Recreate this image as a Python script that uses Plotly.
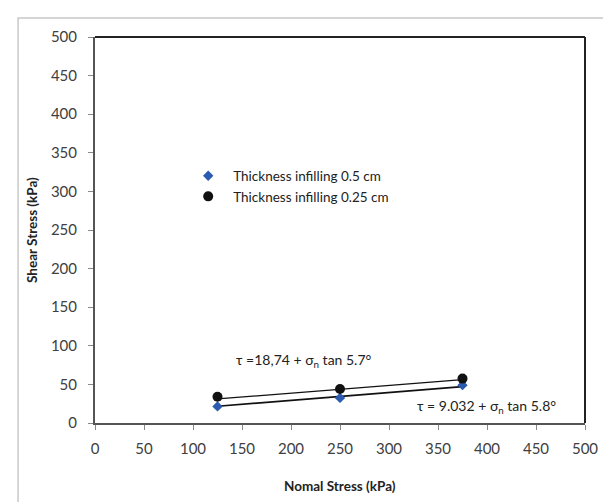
import plotly.graph_objects as go

# Data
normal_stress = [125, 250, 375]
shear_05 = [21.5, 32.5, 49.0]      # Thickness infilling 0.5 cm
shear_025 = [34.0, 44.0, 57.5]     # Thickness infilling 0.25 cm
fit_x = [125, 375]
fit_05 = [21.7, 47.1]              # tau = 9.032 + sigma_n tan 5.8
fit_025 = [31.2, 56.2]             # tau = 18.74 + sigma_n tan 5.7
ticks = list(range(0, 501, 50))

FONT = "Lato"
fig = go.Figure()

fig.add_trace(go.Scatter(x=fit_x, y=fit_025, mode="lines",
                         line=dict(color="#111111", width=1.2), showlegend=False, hoverinfo="skip"))
fig.add_trace(go.Scatter(x=fit_x, y=fit_05, mode="lines",
                         line=dict(color="#111111", width=1.6), showlegend=False, hoverinfo="skip"))
fig.add_trace(go.Scatter(x=normal_stress, y=shear_05, mode="markers",
                         name="Thickness infilling 0.5 cm",
                         marker=dict(symbol="diamond", size=8, color="#2a5bb0")))
fig.add_trace(go.Scatter(x=normal_stress, y=shear_025, mode="markers",
                         name="Thickness infilling 0.25 cm",
                         marker=dict(symbol="circle", size=10, color="#111111")))

axis_common = dict(range=[0, 500], tickvals=ticks, ticks="outside", ticklen=5,
                   tickcolor="#888888", tickwidth=1, showgrid=False, zeroline=False,
                   showline=True, linecolor="#555555", linewidth=2,
                   tickfont=dict(family=FONT, size=15, color="#404040"))

fig.update_xaxes(**axis_common, ticklabelstandoff=6)
fig.update_yaxes(**axis_common, ticklabelstandoff=8)

shapes = [
    # top and right border of plot area
    dict(type="line", xref="paper", yref="paper", x0=0, x1=1, y0=1, y1=1,
         line=dict(color="#222222", width=2)),
    dict(type="line", xref="paper", yref="paper", x0=1, x1=1, y0=0, y1=1,
         line=dict(color="#222222", width=2)),
    # outer chart border
    dict(type="rect", xref="paper", yref="paper", x0=-0.157, x1=1.2, y0=-0.4, y1=1.049,
         line=dict(color="#c8c8c8", width=1.5), layer="below"),
]

annotations = [
    dict(text="<b>Nomal Stress (kPa)</b>", xref="paper", yref="paper", x=0.5, y=0,
         yshift=-63, showarrow=False, xanchor="center", yanchor="middle",
         font=dict(family=FONT, size=13.5, color="#222222")),
    dict(text="<b>Shear Stress (kPa)</b>", xref="paper", yref="paper", x=0, y=0.5,
         xshift=-63, showarrow=False, textangle=-90, xanchor="center", yanchor="middle",
         font=dict(family=FONT, size=13.5, color="#222222")),
    dict(text="τ =18,74 + σ<sub>n</sub> tan 5.7°", x=213, y=81.6, showarrow=False,
         xanchor="center", yanchor="middle", font=dict(family=FONT, size=14, color="#222222")),
    dict(text="τ = 9.032 + σ<sub>n</sub> tan 5.8°", x=399.5, y=22, showarrow=False,
         xanchor="center", yanchor="middle", font=dict(family=FONT, size=14, color="#222222")),
]

fig.update_layout(
    width=611, height=502,
    margin=dict(l=87, r=34, t=29, b=87),
    paper_bgcolor="white", plot_bgcolor="white",
    shapes=shapes, annotations=annotations,
    legend=dict(x=0.18, y=0.68, xanchor="left", yanchor="top",
                bgcolor="rgba(0,0,0,0)", font=dict(family=FONT, size=13.5, color="#222222"),
                itemwidth=40, tracegroupgap=0),
)

fig.write_html("out.html")
